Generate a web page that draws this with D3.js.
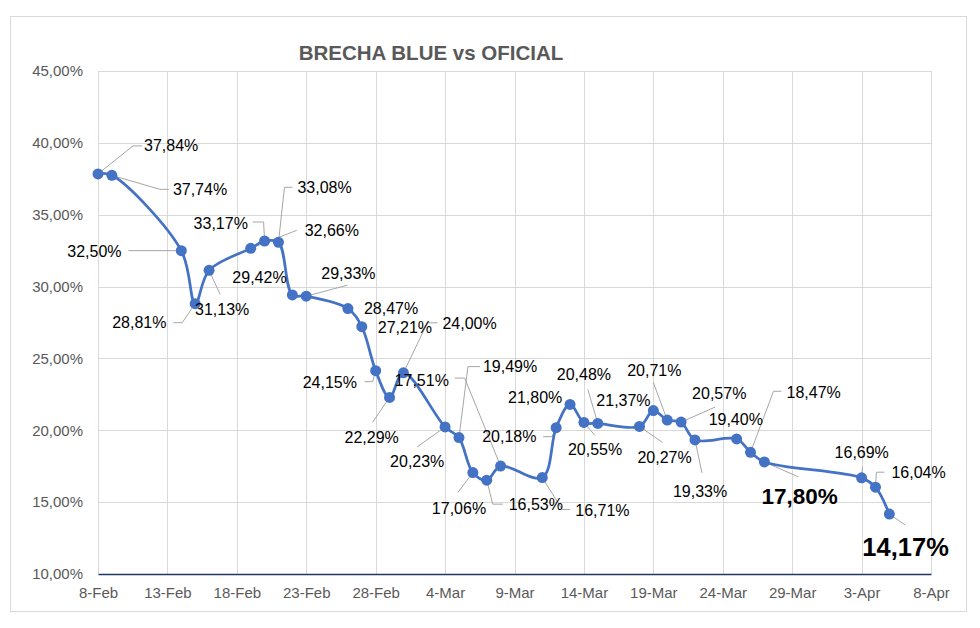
<!DOCTYPE html>
<html>
<head>
<meta charset="utf-8">
<script src="https://cdn.jsdelivr.net/npm/d3@7"></script>
<style>
  html, body { margin: 0; padding: 0; background: #ffffff; }
  svg { display: block; font-family: "Liberation Sans", Arial, sans-serif; }
</style>
</head>
<body>
<svg id="chart" width="980" height="628"></svg>
<script>
// ---------- DATA ----------
const dates = [
  "2024-02-08","2024-02-09","2024-02-14","2024-02-15","2024-02-16","2024-02-19",
  "2024-02-20","2024-02-21","2024-02-22","2024-02-23","2024-02-26","2024-02-27",
  "2024-02-28","2024-02-29","2024-03-01","2024-03-04","2024-03-05","2024-03-06",
  "2024-03-07","2024-03-08","2024-03-11","2024-03-12","2024-03-13","2024-03-14",
  "2024-03-15","2024-03-18","2024-03-19","2024-03-20","2024-03-21","2024-03-22",
  "2024-03-25","2024-03-26","2024-03-27","2024-04-03","2024-04-04","2024-04-05"
];
const brecha = [
  37.84, 37.74, 32.50, 28.81, 31.13, 32.66,
  33.17, 33.08, 29.42, 29.33, 28.47, 27.21,
  24.15, 22.29, 24.00, 20.23, 19.49, 17.06,
  16.53, 17.51, 16.71, 20.18, 21.80, 20.55,
  20.48, 20.27, 21.37, 20.71, 20.57, 19.33,
  19.40, 18.47, 17.80, 16.69, 16.04, 14.17
];
const yTicks = [10, 15, 20, 25, 30, 35, 40, 45];
const xTickDates = [
  "2024-02-08","2024-02-13","2024-02-18","2024-02-23","2024-02-28","2024-03-04",
  "2024-03-09","2024-03-14","2024-03-19","2024-03-24","2024-03-29","2024-04-03","2024-04-08"
];
const chartTitle = "BRECHA BLUE vs OFICIAL";
const highlighted = [32, 35]; // indices drawn with bold, large labels

// ---------- LAYOUT (label placement, pixel offsets from each point) ----------
const labelLayout = [
  {d:[46,-28],  l:[[0,0],[35,-28],[44,-28]]},
  {d:[61,14],   l:[[0,0],[48,14],[57,14]]},
  {d:[-114,1],  l:[[-53,0],[0,0]]},
  {d:[-83,19],  l:[[0,0],[-13,19],[-22,19]]},
  {d:[-14,39],  l:[[0,0],[11,24]]},
  {d:[54,-18],  l:[[0,0],[46,-18]]},
  {d:[-71,-18], l:[[-12,-19],[-1,-19],[0,0]]},
  {d:[19,-55],  l:[[0,0],[6,-55],[14,-55]]},
  {d:[-60,-17], l:null},
  {d:[15,-23],  l:[[0,0],[41,-11]]},
  {d:[16,0],    l:null},
  {d:[16,1],    l:null},
  {d:[-73,12],  l:[[-11,11],[-3,11],[0,0]]},
  {d:[-45,40],  l:[[0,0],[-17,25]]},
  {d:[39,-49],  l:[[0,0],[24,-50],[34,-50]]},
  {d:[-55,35],  l:[[0,0],[-28,20]]},
  {d:[24,-71],  l:[[0,0],[9,-71],[21,-71]]},
  {d:[-41,36],  l:[[0,0],[-15,20]]},
  {d:[22,24],   l:[[0,0],[6,24],[16,24]]},
  {d:[-106,-86],l:[[0,0],[-36,-88],[-46,-88]]},
  {d:[33,33],   l:[[0,0],[20,32],[28,32]]},
  {d:[-74,9],   l:[[0,0],[-4,9],[-13,9]]},
  {d:[-62,-7],  l:null},
  {d:[-16,27],  l:[[0,0],[11,13]]},
  {d:[-41,-49], l:[[0,0],[-10,-34]]},
  {d:[-2,31],   l:[[0,0],[23,16]]},
  {d:[-57,-10], l:null},
  {d:[-40,-50], l:[[0,0],[-14,-38]]},
  {d:[11,-29],  l:[[0,0],[34,-15]]},
  {d:[-22,52],  l:[[0,0],[7,33]]},
  {d:[-28,-19], l:null},
  {d:[36,-60],  l:[[0,0],[23,-61],[31,-61]]},
  {d:[-3,35],   l:[[0,0],[34,15]]},
  {d:[-27,-25], l:[[0,0],[1,-11]]},
  {d:[16,-15],  l:[[0,0],[1,-15],[9,-15]]},
  {d:[-27,33],  l:[[0,0],[16,11]]}
];

// ---------- CHART ----------
(function () {
const parse = d3.timeParse("%Y-%m-%d");
const data = dates.map((d, i) => ({ date: parse(d), value: brecha[i], i }));

const svg = d3.select("#chart");
const plotL = 98, plotR = 931, plotT = 71, plotB = 574;

const locale = d3.formatLocale({ decimal: ",", thousands: ".", grouping: [3], currency: ["$", ""] });
const pct = v => locale.format(".2f")(v) + "%";

const x = d3.scaleTime()
  .domain([parse(xTickDates[0]), parse(xTickDates[xTickDates.length - 1])])
  .range([plotL, plotR]);
const y = d3.scaleLinear().domain([10, 45]).range([plotB, plotT]);

// outer frame
svg.append("rect")
  .attr("x", 10.5).attr("y", 16.5).attr("width", 956).attr("height", 595)
  .attr("fill", "#fff").attr("stroke", "#d9d9d9").attr("stroke-width", 1);

// title
svg.append("text")
  .attr("x", 431).attr("y", 52)
  .attr("text-anchor", "middle").attr("dominant-baseline", "central")
  .attr("font-size", 20.5).attr("font-weight", "bold").attr("fill", "#595959")
  .text(chartTitle);

// horizontal gridlines
svg.append("g").selectAll("line").data(yTicks.filter(t => t !== 10)).join("line")
  .attr("x1", plotL).attr("x2", plotR)
  .attr("y1", d => Math.round(y(d)) + 0.5).attr("y2", d => Math.round(y(d)) + 0.5)
  .attr("stroke", "#d9d9d9").attr("stroke-width", 1);

// vertical gridlines
svg.append("g").selectAll("line").data(xTickDates.map(parse)).join("line")
  .attr("x1", d => Math.round(x(d)) + 0.5).attr("x2", d => Math.round(x(d)) + 0.5)
  .attr("y1", plotT).attr("y2", plotB)
  .attr("stroke", "#d9d9d9").attr("stroke-width", 1);

// y axis labels
const yAxis = d3.axisLeft(y).tickValues(yTicks).tickSize(0).tickPadding(15)
  .tickFormat(d => pct(d));
const gy = svg.append("g").attr("transform", `translate(${plotL},0)`).call(yAxis);
gy.select(".domain").remove();
gy.selectAll("text").attr("font-size", 15).attr("fill", "#595959")
  .attr("font-family", "'Liberation Sans', Arial, sans-serif");

// x axis
const xAxis = d3.axisBottom(x).tickValues(xTickDates.map(parse)).tickSize(0).tickPadding(13)
  .tickFormat(d3.timeFormat("%-d-%b"));
const gx = svg.append("g").attr("transform", `translate(0,${plotB})`).call(xAxis);
gx.select(".domain").attr("stroke", "#1f3864").attr("stroke-width", 1.5);
gx.selectAll("text").attr("font-size", 15).attr("fill", "#595959")
  .attr("font-family", "'Liberation Sans', Arial, sans-serif");

// leader lines
const leaderG = svg.append("g");
data.forEach((d, i) => {
  const lay = labelLayout[i];
  if (!lay.l) return;
  const px = x(d.date), py = y(d.value);
  leaderG.append("polyline")
    .attr("points", lay.l.map(p => `${px + p[0]},${py + p[1]}`).join(" "))
    .attr("fill", "none").attr("stroke", "#a6a6a6").attr("stroke-width", 1);
});

// line
const line = d3.line().x(d => x(d.date)).y(d => y(d.value)).curve(d3.curveCatmullRom.alpha(0.5));
svg.append("path").datum(data)
  .attr("d", line).attr("fill", "none")
  .attr("stroke", "#4472c4").attr("stroke-width", 2.75)
  .attr("stroke-linejoin", "round");

// markers
svg.append("g").selectAll("circle").data(data).join("circle")
  .attr("cx", d => x(d.date)).attr("cy", d => y(d.value)).attr("r", 5.5)
  .attr("fill", "#4472c4");

// labels
svg.append("g").selectAll("text").data(data).join("text")
  .attr("x", d => x(d.date) + labelLayout[d.i].d[0])
  .attr("y", d => y(d.value) + labelLayout[d.i].d[1])
  .attr("dominant-baseline", "central")
  .attr("font-size", d => d.i === 35 ? 25.5 : (d.i === 32 ? 22.5 : 16))
  .attr("font-weight", d => highlighted.includes(d.i) ? "bold" : "normal")
  .attr("fill", "#000")
  .text(d => pct(d.value));
})();
</script>
</body>
</html>
